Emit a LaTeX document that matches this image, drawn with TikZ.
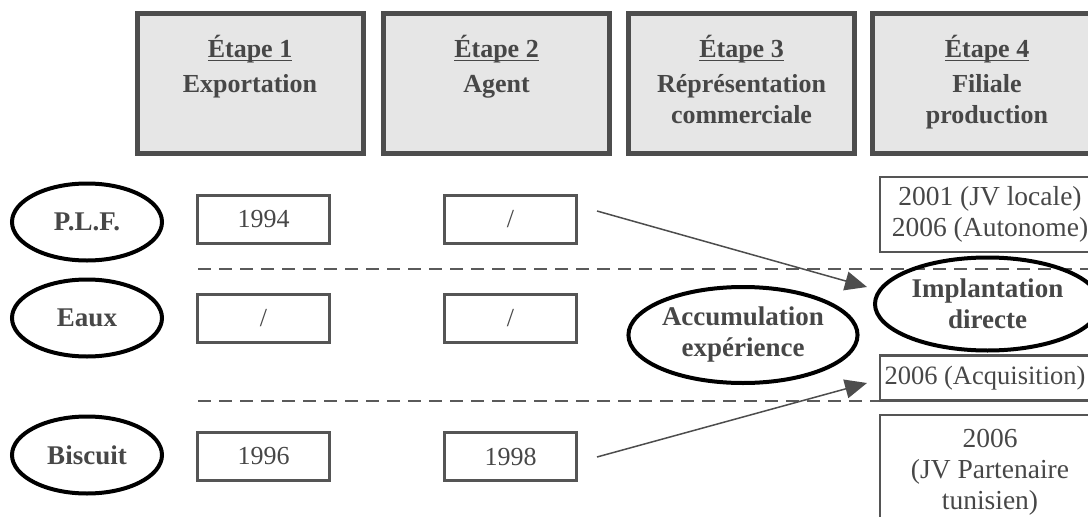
\documentclass[tikz,border=0pt]{standalone}
\usepackage{fontspec}
\setmainfont{Liberation Serif}
\usetikzlibrary{shapes.geometric,arrows.meta}
\definecolor{txt}{HTML}{474747}
\definecolor{hfill}{HTML}{E6E6E6}
\definecolor{hdr}{HTML}{4D4D4D}
\definecolor{bdr}{HTML}{555555}
\definecolor{dsh}{HTML}{5A5A5A}
\definecolor{arc}{HTML}{4D4D4D}
\newcommand\bigf{\fontsize{26}{31}\selectfont}
\newcommand\labf{\fontsize{27}{31}\selectfont}
\newcommand\boxf{\fontsize{26}{30}\selectfont}
\newcommand\colf{\fontsize{27.5}{31}\selectfont}
\newcommand\acqf{\fontsize{26.5}{31}\selectfont}
\newcommand\myul[1]{\setbox0\hbox{#1}\rlap{\vrule height -3pt depth 4.4pt width \wd0}\box0}
\begin{document}
\begin{tikzpicture}[x=1pt,y=-1pt,
  hbox/.style={draw=hdr, line width=5pt, fill=hfill, minimum width=226pt, minimum height=140pt, inner sep=0pt},
  ybox/.style={draw=bdr, line width=2.5pt, minimum width=132pt, minimum height=48pt, inner sep=0pt, text=txt, font=\boxf},
  rbox/.style={draw=bdr, line width=2.5pt, inner sep=0pt, text=txt, font=\colf, align=center},
  lab/.style={draw=black, line width=4pt, ellipse, minimum width=150pt, minimum height=77pt, inner sep=0pt, text=txt, font=\labf\bfseries, align=center},
  htxt/.style={anchor=base, text=txt, font=\bigf\bfseries, inner sep=0pt},
  sepline/.style={draw=dsh, line width=1.8pt, dash pattern=on 13pt off 8pt},
  arr/.style={draw=arc, line width=1.5pt, -{Triangle[length=22pt,width=19pt]}, fill=arc}]
\useasboundingbox (0,0) rectangle (1088,517);
\clip (0,0) rectangle (1088,517);
% header boxes
\node[hbox] (h1) at (250,83) {};
\node[hbox] (h2) at (496.5,83) {};
\node[hbox] (h3) at (741.5,83) {};
\node[hbox, minimum width=230pt] (h4) at (987,83) {};
\node[htxt] (h1t) at (250,57) {\myul{Étape 1}};
\node[htxt] (h1b) at (250,92) {Exportation};
\node[htxt] (h2t) at (496.5,57) {\myul{Étape 2}};
\node[htxt] (h2b) at (496.5,92) {Agent};
\node[htxt] (h3t) at (741.5,57) {\myul{Étape 3}};
\node[htxt] (h3b) at (741.5,92) {Réprésentation};
\node[htxt] (h3c) at (741.5,123) {commerciale};
\node[htxt] (h4t) at (987,57) {\myul{Étape 4}};
\node[htxt] (h4b) at (987,92) {Filiale};
\node[htxt] (h4c) at (987,123) {production};
% dashed separators
\draw[sepline] (198,269) -- (1090,269);
\draw[sepline] (198,401) -- (1090,401);
% row labels
\node[lab] (plf) at (87,222) {P.L.F.};
\node[lab] (eaux) at (87,318) {Eaux};
\node[lab] (bisc) at (87,455) {Biscuit};
% row boxes
\node[ybox] (p1) at (263.5,219.5) {1994};
\node[ybox] (p2) at (510.5,219.5) {/};
\node[ybox] (e1) at (263.5,318.5) {/};
\node[ybox] (e2) at (510.5,318.5) {/};
\node[ybox] (b1) at (263.5,456.5) {1996};
\node[ybox] (b2) at (510.5,456.5) {1998};
% right column
\node[rbox, minimum width=220pt, minimum height=75pt] (r1) at (990,214.5) {2001 (JV locale)\\2006 (Autonome)};
\node[lab, minimum width=225pt, minimum height=93pt] (impl) at (987.5,304) {Implantation\\directe};
\node[lab, minimum width=220pt, minimum height=96pt] (accu) at (743,335) {Accumulation\\expérience};
\node[rbox, font=\acqf, minimum width=216pt, minimum height=45pt] (r2) at (988,378) {};
\node[text=txt, font=\acqf, inner sep=0pt] (r2t) at (985,378) {2006 (Acquisition)};
\node[rbox, minimum width=220pt, minimum height=114pt] (r3) at (990,472) {2006\\(JV Partenaire\\tunisien)};
% arrows
\coordinate (a1s) at (597,211);
\coordinate (a1e) at (867,287);
\coordinate (a2s) at (597,457);
\coordinate (a2e) at (867,383);
\draw[arr] (a1s) -- (a1e);
\draw[arr] (a2s) -- (a2e);
\end{tikzpicture}
\end{document}
